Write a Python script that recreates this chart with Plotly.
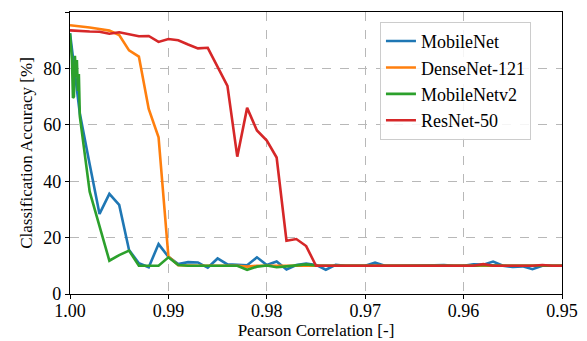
import plotly.graph_objects as go

# Pearson correlation sample points (step 0.001)
corr = [1.000, 0.999, 0.998, 0.997, 0.996, 0.995, 0.994, 0.993, 0.992, 0.991,
        0.990, 0.989, 0.988, 0.987, 0.986, 0.985, 0.984, 0.983, 0.982, 0.981,
        0.980, 0.979, 0.978, 0.977, 0.976, 0.975, 0.974, 0.973, 0.972, 0.971,
        0.970, 0.969, 0.968, 0.967, 0.966, 0.965, 0.964, 0.963, 0.962, 0.961,
        0.960, 0.959, 0.958, 0.957, 0.956, 0.955, 0.954, 0.953, 0.952, 0.951,
        0.950]

mobilenet = [92.5, 64.0, 46.0, 28.4, 35.5, 31.6, 15.6, 10.9, 9.5, 17.7,
             13.2, 10.6, 11.3, 11.2, 9.3, 12.6, 10.5, 10.3, 10.2, 13.0,
             10.3, 11.5, 8.7, 10.3, 10.8, 10.3, 8.6, 10.3, 10.0, 10.0,
             10.0, 11.1, 10.0, 10.0, 10.0, 10.0, 10.0, 10.2, 10.3, 10.0,
             10.0, 10.5, 10.4, 11.5, 10.0, 9.6, 9.8, 8.8, 10.0, 10.0,
             10.0]

densenet = [95.3, 95.0, 94.5, 94.0, 93.4, 91.8, 86.4, 84.2, 65.6, 55.6,
            13.3, 10.2, 10.0, 10.0, 10.0, 10.0, 10.0, 10.0, 9.7, 10.0,
            10.0, 10.0, 10.0, 10.0, 10.0, 10.0, 10.0, 10.0, 10.0, 10.0,
            10.0, 10.0, 10.0, 10.0, 10.0, 10.0, 10.0, 10.0, 10.0, 10.0,
            10.0, 10.0, 10.0, 10.0, 10.0, 10.0, 10.0, 10.0, 10.0, 10.0,
            10.0]

# MobileNetv2 has finer sampling close to 1.0
corr_v2 = [1.0000, 0.9999, 0.9998, 0.9997, 0.9996, 0.9995, 0.9994, 0.9993, 0.9992, 0.9991,
           0.999, 0.998, 0.997, 0.996, 0.995, 0.994, 0.993, 0.992, 0.991,
           0.990, 0.989, 0.988, 0.987, 0.986, 0.985, 0.984, 0.983, 0.982, 0.981,
           0.980, 0.979, 0.978, 0.977, 0.976, 0.975, 0.974, 0.973, 0.972, 0.971,
           0.970, 0.969, 0.968, 0.967, 0.966, 0.965, 0.964, 0.963, 0.962, 0.961,
           0.960, 0.959, 0.958, 0.957, 0.956, 0.955, 0.954, 0.953, 0.952, 0.951,
           0.950]
mobilenetv2 = [92.4, 88.0, 83.0, 69.5, 70.0, 84.5, 77.0, 83.0, 72.0, 78.0,
               63.0, 36.3, 23.6, 11.8, 13.8, 15.4, 10.0, 10.0, 10.0,
               13.0, 10.3, 10.0, 10.0, 10.0, 10.0, 10.0, 10.0, 8.6, 9.7,
               10.1, 9.5, 9.8, 10.1, 10.5, 10.1, 10.0, 10.0, 10.0, 10.0,
               10.0, 10.0, 10.0, 10.0, 10.0, 10.0, 10.0, 10.0, 10.2, 10.0,
               10.0, 10.0, 10.3, 10.1, 10.0, 10.0, 10.0, 10.0, 10.0, 10.0,
               10.0]

resnet = [93.5, 93.2, 93.1, 93.0, 92.3, 92.8, 92.0, 91.4, 91.5, 89.4,
          90.4, 90.0, 88.5, 87.1, 87.3, 80.7, 73.8, 48.7, 66.0, 58.0,
          54.4, 48.4, 18.9, 19.5, 17.0, 10.0, 10.0, 10.0, 10.0, 10.0,
          10.0, 10.0, 10.0, 10.0, 10.0, 10.0, 10.0, 10.0, 10.0, 10.0,
          10.0, 10.0, 10.6, 10.0, 10.0, 10.0, 10.0, 10.0, 10.3, 10.0,
          10.0]

x_ticks = [1.00, 0.99, 0.98, 0.97, 0.96, 0.95]
y_ticks = [0, 20, 40, 60, 80, 100]

series = [
    ("MobileNet", corr, mobilenet, "#1f77b4"),
    ("DenseNet-121", corr, densenet, "#ff7f0e"),
    ("MobileNetv2", corr_v2, mobilenetv2, "#2ca02c"),
    ("ResNet-50", corr, resnet, "#d62728"),
]

fig = go.Figure()
for name, xs, ys, col in series:
    fig.add_trace(go.Scatter(x=xs, y=ys, mode="lines", name=name,
                             line=dict(color=col, width=2.6)))

font = "Liberation Serif"
axis_common = dict(
    showline=True, mirror=True, linecolor="black", linewidth=1.2,
    ticks="outside", ticklen=4, tickwidth=1, tickcolor="black",
    showgrid=True, gridcolor="#b8b8b8", griddash="dash", gridwidth=0.8,
    zeroline=False, automargin=False,
    tickfont=dict(family=font, size=18, color="black"),
)

# page body has an 8px margin; margins compensate so the plot area lands at x 70-562, y 12-294
fig.update_layout(
    width=587, height=341, autosize=False,
    margin=dict(l=62, r=33, t=4, b=55, pad=0),
    paper_bgcolor="white", plot_bgcolor="white",
    font=dict(family=font, size=18, color="black"),
    xaxis=dict(range=[1.0, 0.95], tickvals=x_ticks, tickformat=".2f",
               ticklabelstandoff=-4,
               title=dict(text="Pearson Correlation [-]", font=dict(family=font, size=17), standoff=2),
               **axis_common),
    yaxis=dict(range=[0, 100], tickvals=y_ticks,
               title=dict(text="Classification Accuracy [%]", font=dict(family=font, size=17), standoff=6),
               **axis_common),
    legend=dict(x=0.630, y=0.965, xanchor="left", yanchor="top",
                bgcolor="rgba(255,255,255,0.85)", bordercolor="#cccccc", borderwidth=1,
                font=dict(family=font, size=18), tracegroupgap=0,
                entrywidth=125, entrywidthmode="pixels"),
    showlegend=True,
)

fig.write_html("out.html", config={"displayModeBar": False})
